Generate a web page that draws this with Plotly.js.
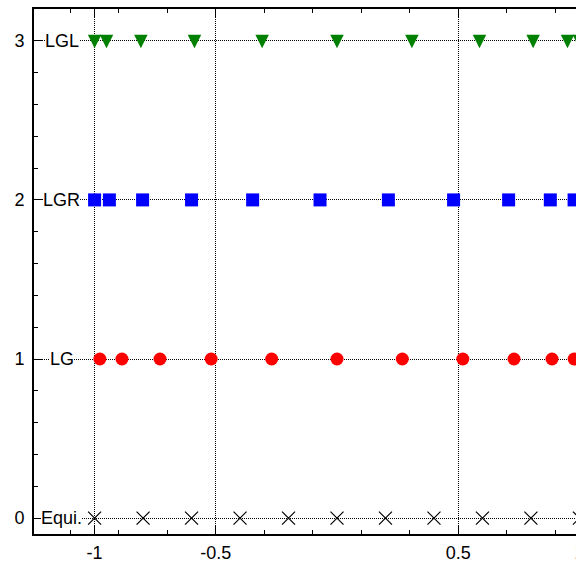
<!DOCTYPE html>
<html>
<head>
<meta charset="utf-8">
<script src="https://cdn.plot.ly/plotly-3.0.1.min.js"></script>
<style>
html, body { margin: 0; padding: 0; overflow: hidden; background: #fff; }
#chart { width: 660px; height: 562px; }
</style>
</head>
<body>
<div id="chart"></div>
<script>
// Row names and their row values
const rowNames = ["Equi.", "LG", "LGR", "LGL"];
const rowLevels = [0, 1, 2, 3];

// Node positions
const equiNodes = [-1, -0.8, -0.6, -0.4, -0.2, 0, 0.2, 0.4, 0.6, 0.8, 1];
const lgNodes = [-0.9782, -0.8871, -0.7302, -0.5191, -0.2695, 0, 0.2695, 0.5191, 0.7302, 0.8871, 0.9782];
const lgrNodes = [-1, -0.939, -0.802, -0.600, -0.348, -0.070, 0.212, 0.481, 0.708, 0.880, 0.978];
const lglNodes = [-1, -0.951, -0.809, -0.588, -0.309, 0, 0.309, 0.588, 0.809, 0.951, 1];

// Axis ticks
const xTickVals = [-1, -0.5, 0.5, 1];
const xTickText = ["-1", "-0.5", "0.5", "1"];
const xMinorVals = [-1.1, -0.9, -0.7, -0.3, -0.1, 0.1, 0.3, 0.7, 0.9, 1.1];
const yTickVals = [0, 1, 2, 3];
const yTickText = ["0", "1", "2", "3"];
const yMinorVals = [0.2, 0.4, 0.6, 0.8, 1.2, 1.4, 1.6, 1.8, 2.2, 2.4, 2.6, 2.8];

const rowOf = (nodes, lvl) => nodes.map(() => lvl);

const traces = [
  {x: equiNodes, y: rowOf(equiNodes, rowLevels[0]), type: "scatter", mode: "markers",
   marker: {symbol: "x-thin", size: 13, color: "#000", line: {color: "#000", width: 1.2}}},
  {x: lgNodes, y: rowOf(lgNodes, rowLevels[1]), type: "scatter", mode: "markers",
   marker: {symbol: "circle", size: 13, color: "#ff0000", line: {width: 0}}},
  {x: lgrNodes, y: rowOf(lgrNodes, rowLevels[2]), type: "scatter", mode: "markers",
   marker: {symbol: "square", size: 13, color: "#0000ff", line: {width: 0}}},
  {x: lglNodes, y: rowOf(lglNodes, rowLevels[3]), type: "scatter", mode: "markers", yaxis: "y2",
   marker: {symbol: "arrow-down", size: 13.5, color: "#008000", line: {width: 0}}}
];

const font = {family: "Liberation Sans, Arial, sans-serif", size: 18, color: "#000"};
const yRange = [-0.1, 3.2];
const triShift = 0.047;

const layout = {
  width: 660, height: 562,
  margin: {l: 34, r: 20, t: 9, b: 28},
  paper_bgcolor: "#fff", plot_bgcolor: "#fff",
  showlegend: false,
  font: font,
  xaxis: {
    range: [-1.25, 1.25],
    tickmode: "array", tickvals: xTickVals, ticktext: xTickText,
    ticks: "inside", ticklen: 8, tickwidth: 1, tickcolor: "#000",
    ticklabelstandoff: 1,
    showline: true, linecolor: "#000", linewidth: 2, mirror: "ticks",
    showgrid: true, gridcolor: "#000", gridwidth: 1, griddash: "1px,1px",
    zeroline: false,
    minor: {tickmode: "array", tickvals: xMinorVals, ticks: "inside", ticklen: 4, tickcolor: "#000", showgrid: false},
    tickfont: font
  },
  yaxis: {
    range: yRange,
    tickmode: "array", tickvals: yTickVals, ticktext: yTickText,
    ticks: "inside", ticklen: 8, tickwidth: 1, tickcolor: "#000",
    ticklabelstandoff: 4,
    showline: true, linecolor: "#000", linewidth: 2, mirror: "ticks",
    showgrid: true, gridcolor: "#000", gridwidth: 1, griddash: "1px,1px",
    zeroline: false,
    minor: {tickmode: "array", tickvals: yMinorVals, ticks: "inside", ticklen: 4, tickcolor: "#000", showgrid: false},
    tickfont: font
  },
  yaxis2: {
    overlaying: "y", range: [yRange[0] + triShift, yRange[1] + triShift],
    visible: false, showgrid: false, zeroline: false
  },
  annotations: rowNames.map((name, i) => ({
    x: -1.136, y: rowLevels[i], xref: "x", yref: "y",
    text: name, showarrow: false, xanchor: "center", yanchor: "middle",
    bgcolor: "#fff", borderpad: 0, borderwidth: 0,
    font: {family: font.family, size: 18, color: "#000"}
  }))
};

Plotly.newPlot("chart", traces, layout, {displayModeBar: false, staticPlot: true});
</script>
</body>
</html>
